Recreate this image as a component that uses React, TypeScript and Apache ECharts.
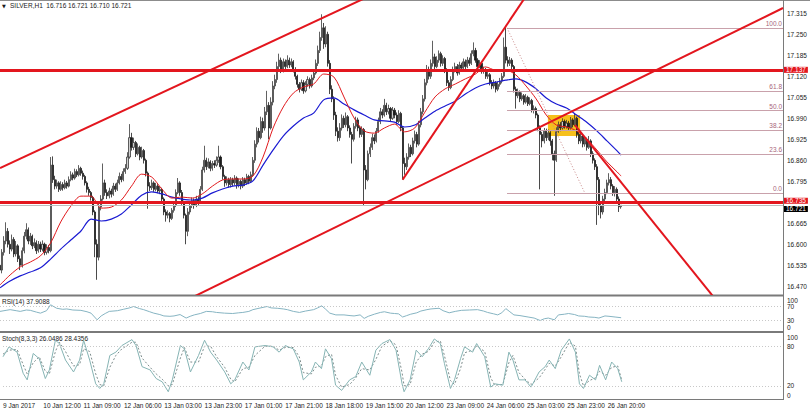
import React, { useEffect, useRef } from "react";
import * as echarts from "echarts";

// SILVER H1, 9–26 Jan 2017. Each bar opens at the previous bar's close.
const firstOpen = 16.535;
const closes = [
  16.520, 16.575, 16.610, 16.640, 16.600, 16.585, 16.615, 16.570, 16.595, 16.555,
  16.535, 16.580, 16.625, 16.645, 16.610, 16.625, 16.595, 16.605, 16.580, 16.600,
  16.585, 16.600, 16.575, 16.590, 16.580, 16.845, 16.800, 16.780, 16.790, 16.770,
  16.785, 16.775, 16.790, 16.780, 16.800, 16.815, 16.805, 16.825, 16.815, 16.835,
  16.820, 16.810, 16.790, 16.770, 16.760, 16.745, 16.700, 16.600, 16.560, 16.715,
  16.740, 16.790, 16.760, 16.750, 16.765, 16.755, 16.780, 16.770, 16.790, 16.810,
  16.800, 16.825, 16.835, 16.870, 16.930, 16.900, 16.915, 16.880, 16.900, 16.870,
  16.890, 16.860, 16.820, 16.780, 16.775, 16.790, 16.770, 16.780, 16.765, 16.770,
  16.740, 16.700, 16.690, 16.695, 16.680, 16.705, 16.720, 16.760, 16.790, 16.760,
  16.730, 16.690, 16.640, 16.700, 16.720, 16.735, 16.720, 16.740, 16.730, 16.770,
  16.830, 16.860, 16.840, 16.855, 16.835, 16.850, 16.845, 16.860, 16.870, 16.840,
  16.810, 16.790, 16.800, 16.785, 16.800, 16.790, 16.805, 16.785, 16.795, 16.780,
  16.800, 16.790, 16.810, 16.795, 16.815, 16.860, 16.910, 16.950, 16.930, 16.980,
  16.960, 17.010, 17.030, 16.960, 17.040, 17.090, 17.110, 17.150, 17.170, 17.140,
  17.165, 17.150, 17.170, 17.155, 17.165, 17.140, 17.120, 17.095, 17.080, 17.100,
  17.075, 17.095, 17.110, 17.090, 17.115, 17.130, 17.160, 17.200, 17.240, 17.270,
  17.220, 17.250, 17.160, 17.080, 17.050, 17.000, 16.950, 16.930, 16.960, 16.990,
  16.970, 16.995, 16.960, 16.940, 16.925, 16.965, 16.985, 16.960, 16.940, 16.955,
  16.830, 16.800, 16.880, 16.900, 16.930, 16.920, 16.950, 16.980, 17.010, 17.000,
  17.030, 17.010, 17.020, 16.990, 17.015, 17.000, 16.980, 17.005, 16.960, 16.850,
  16.840, 16.870, 16.900, 16.880, 16.920, 16.940, 16.910, 16.970, 17.010, 17.050,
  17.100, 17.140, 17.120, 17.160, 17.180, 17.150, 17.170, 17.190, 17.160, 17.175,
  17.140, 17.100, 17.085, 17.110, 17.140, 17.150, 17.130, 17.155, 17.145, 17.165,
  17.150, 17.170, 17.160, 17.190, 17.200, 17.170, 17.150, 17.160, 17.135, 17.140,
  17.120, 17.125, 17.100, 17.090, 17.100, 17.080, 17.095, 17.105, 17.120, 17.210,
  17.170, 17.160, 17.170, 17.150, 17.080, 17.060, 17.070, 17.050, 17.060, 17.040,
  17.055, 17.035, 17.045, 17.015, 17.020, 17.000, 16.960, 16.940, 16.920, 16.950,
  16.930, 16.945, 16.920, 16.880, 16.860, 16.950, 16.970, 16.960, 16.980, 16.965,
  16.975, 16.960, 16.985, 16.970, 16.990, 16.940, 16.920, 16.935, 16.910, 16.925,
  16.900, 16.920, 16.880, 16.860, 16.840, 16.800, 16.720, 16.700, 16.740, 16.760,
  16.790, 16.800, 16.780, 16.760, 16.770, 16.740, 16.716, 16.721,
];
const highs = [
  16.545, 16.585, 16.625, 16.668, 16.650, 16.612, 16.630, 16.622, 16.610, 16.600,
  16.565, 16.590, 16.638, 16.665, 16.652, 16.635, 16.630, 16.618, 16.612, 16.610,
  16.608, 16.612, 16.605, 16.600, 16.598, 16.870, 16.872, 16.812, 16.800, 16.795,
  16.795, 16.792, 16.800, 16.796, 16.810, 16.826, 16.822, 16.834, 16.832, 16.845,
  16.840, 16.828, 16.815, 16.795, 16.778, 16.765, 16.750, 16.705, 16.615, 16.725,
  16.752, 16.850, 16.800, 16.770, 16.775, 16.772, 16.790, 16.788, 16.800, 16.822,
  16.818, 16.835, 16.848, 16.885, 16.972, 16.945, 16.930, 16.920, 16.912, 16.905,
  16.902, 16.895, 16.865, 16.825, 16.792, 16.800, 16.795, 16.790, 16.786, 16.780,
  16.775, 16.745, 16.708, 16.705, 16.700, 16.712, 16.730, 16.770, 16.805, 16.795,
  16.768, 16.735, 16.695, 16.712, 16.730, 16.745, 16.742, 16.750, 16.748, 16.780,
  16.840, 16.905, 16.868, 16.866, 16.860, 16.858, 16.860, 16.872, 16.905, 16.875,
  16.845, 16.815, 16.810, 16.806, 16.808, 16.806, 16.814, 16.810, 16.804, 16.800,
  16.808, 16.806, 16.818, 16.815, 16.825, 16.870, 16.922, 16.962, 16.960, 16.995,
  16.992, 17.025, 17.075, 17.040, 17.055, 17.105, 17.125, 17.165, 17.190, 17.178,
  17.175, 17.172, 17.185, 17.178, 17.175, 17.170, 17.148, 17.125, 17.102, 17.110,
  17.108, 17.105, 17.120, 17.116, 17.125, 17.142, 17.172, 17.215, 17.258, 17.312,
  17.285, 17.275, 17.258, 17.170, 17.092, 17.058, 17.010, 16.962, 16.975, 17.002,
  16.998, 17.008, 17.000, 16.968, 16.948, 16.975, 16.995, 16.992, 16.966, 16.965,
  16.960, 16.845, 16.890, 16.912, 16.942, 16.940, 16.960, 16.992, 17.022, 17.018,
  17.050, 17.038, 17.032, 17.025, 17.025, 17.022, 17.008, 17.015, 17.010, 16.965,
  16.868, 16.882, 16.912, 16.908, 16.930, 16.952, 16.948, 16.982, 17.022, 17.062,
  17.112, 17.155, 17.150, 17.172, 17.230, 17.190, 17.182, 17.200, 17.196, 17.185,
  17.180, 17.145, 17.108, 17.120, 17.150, 17.162, 17.158, 17.165, 17.162, 17.175,
  17.172, 17.180, 17.178, 17.200, 17.225, 17.208, 17.176, 17.170, 17.165, 17.150,
  17.146, 17.134, 17.130, 17.108, 17.110, 17.105, 17.104, 17.115, 17.130, 17.240,
  17.270, 17.182, 17.180, 17.176, 17.155, 17.088, 17.082, 17.076, 17.070, 17.065,
  17.065, 17.060, 17.055, 17.050, 17.030, 17.026, 17.005, 16.968, 16.948, 16.960,
  16.958, 16.955, 16.950, 16.926, 16.890, 16.962, 16.980, 16.978, 16.990, 16.986,
  16.985, 16.982, 16.994, 16.990, 17.005, 16.995, 16.948, 16.945, 16.940, 16.935,
  16.930, 16.935, 16.925, 16.888, 16.866, 16.848, 16.808, 16.730, 16.750, 16.772,
  16.800, 16.820, 16.808, 16.786, 16.780, 16.776, 16.748, 16.721,
];
const lows = [
  16.490, 16.510, 16.565, 16.600, 16.590, 16.570, 16.578, 16.560, 16.562, 16.545,
  16.520, 16.528, 16.572, 16.615, 16.600, 16.598, 16.585, 16.588, 16.570, 16.574,
  16.576, 16.578, 16.566, 16.568, 16.572, 16.575, 16.790, 16.770, 16.772, 16.762,
  16.765, 16.766, 16.770, 16.772, 16.776, 16.795, 16.798, 16.800, 16.808, 16.810,
  16.812, 16.800, 16.782, 16.760, 16.750, 16.735, 16.690, 16.560, 16.490, 16.550,
  16.705, 16.735, 16.750, 16.740, 16.742, 16.745, 16.750, 16.762, 16.765, 16.785,
  16.792, 16.795, 16.818, 16.830, 16.865, 16.890, 16.892, 16.870, 16.875, 16.860,
  16.865, 16.850, 16.810, 16.710, 16.765, 16.768, 16.762, 16.764, 16.758, 16.755,
  16.732, 16.690, 16.670, 16.680, 16.668, 16.675, 16.698, 16.715, 16.755, 16.750,
  16.722, 16.680, 16.600, 16.625, 16.692, 16.712, 16.710, 16.715, 16.720, 16.725,
  16.765, 16.822, 16.830, 16.835, 16.826, 16.828, 16.836, 16.840, 16.852, 16.832,
  16.800, 16.778, 16.782, 16.775, 16.776, 16.780, 16.782, 16.772, 16.776, 16.770,
  16.774, 16.780, 16.784, 16.786, 16.790, 16.810, 16.852, 16.900, 16.915, 16.925,
  16.945, 16.952, 17.000, 16.925, 16.955, 17.030, 17.080, 17.100, 17.140, 17.130,
  17.132, 17.140, 17.145, 17.146, 17.148, 17.132, 17.110, 17.085, 17.070, 17.075,
  17.066, 17.070, 17.088, 17.082, 17.085, 17.108, 17.125, 17.152, 17.192, 17.230,
  17.205, 17.210, 17.150, 17.065, 17.040, 16.985, 16.935, 16.918, 16.920, 16.952,
  16.960, 16.962, 16.950, 16.930, 16.850, 16.918, 16.958, 16.950, 16.930, 16.932,
  16.720, 16.770, 16.795, 16.870, 16.892, 16.910, 16.915, 16.945, 16.972, 16.990,
  16.995, 17.000, 17.002, 16.980, 16.985, 16.990, 16.970, 16.975, 16.950, 16.800,
  16.815, 16.830, 16.862, 16.870, 16.875, 16.912, 16.900, 16.905, 16.962, 17.002,
  17.042, 17.092, 17.110, 17.112, 17.150, 17.140, 17.145, 17.162, 17.150, 17.152,
  17.130, 17.090, 17.075, 17.080, 17.105, 17.132, 17.122, 17.125, 17.138, 17.140,
  17.142, 17.145, 17.152, 17.155, 17.182, 17.162, 17.142, 17.145, 17.128, 17.128,
  17.112, 17.112, 17.092, 17.080, 17.082, 17.070, 17.074, 17.088, 17.098, 17.115,
  17.160, 17.150, 17.152, 17.140, 17.070, 17.020, 17.052, 17.040, 17.044, 17.032,
  17.035, 17.028, 17.030, 17.008, 17.005, 16.990, 16.950, 16.770, 16.900, 16.912,
  16.920, 16.922, 16.905, 16.860, 16.750, 16.855, 16.945, 16.950, 16.955, 16.958,
  16.958, 16.952, 16.955, 16.962, 16.965, 16.930, 16.910, 16.912, 16.900, 16.902,
  16.890, 16.895, 16.870, 16.850, 16.830, 16.660, 16.690, 16.680, 16.692, 16.732,
  16.755, 16.782, 16.770, 16.750, 16.748, 16.730, 16.700, 16.710,
];

// Moving averages, [bar, price]
const maFast: [number, number][] = [
  [0, 16.474], [5, 16.505], [10, 16.530], [15, 16.545], [20, 16.564], [25, 16.604], [30, 16.669],
  [35, 16.718], [40, 16.749], [45, 16.749], [50, 16.712], [55, 16.715], [60, 16.737], [65, 16.780],
  [70, 16.817], [75, 16.808], [80, 16.771], [85, 16.743], [90, 16.746], [95, 16.743], [100, 16.756],
  [105, 16.780], [110, 16.799], [115, 16.802], [120, 16.802], [125, 16.811], [130, 16.870], [135, 16.960],
  [140, 17.025], [145, 17.068], [150, 17.087], [155, 17.096], [160, 17.127], [165, 17.118], [170, 17.056],
  [175, 16.991], [180, 16.951], [185, 16.944], [190, 16.960], [195, 16.972], [200, 16.948], [205, 16.960],
  [210, 17.009], [215, 17.056], [220, 17.081], [225, 17.096], [230, 17.112], [235, 17.127], [240, 17.149],
  [245, 17.139], [250, 17.139], [255, 17.124], [260, 17.090], [265, 17.050], [270, 17.000], [275, 16.969],
  [280, 16.963], [285, 16.951], [290, 16.926], [295, 16.892], [300, 16.855], [305, 16.824], [307, 16.811],
];
const maSlow: [number, number][] = [
  [0, 16.465], [5, 16.486], [10, 16.502], [15, 16.514], [20, 16.527], [25, 16.554], [30, 16.585],
  [35, 16.613], [40, 16.641], [45, 16.678], [50, 16.672], [55, 16.678], [60, 16.694], [65, 16.722],
  [70, 16.752], [75, 16.762], [80, 16.756], [85, 16.746], [90, 16.740], [95, 16.737], [100, 16.743],
  [105, 16.759], [110, 16.771], [115, 16.780], [120, 16.783], [125, 16.796], [130, 16.845], [135, 16.892],
  [140, 16.935], [145, 16.966], [150, 16.991], [155, 17.006], [160, 17.047], [165, 17.053], [170, 17.034],
  [175, 17.016], [180, 17.000], [185, 16.985], [190, 16.982], [195, 16.978], [200, 16.963], [205, 16.969],
  [210, 16.991], [215, 17.012], [220, 17.028], [225, 17.043], [230, 17.065], [235, 17.084], [240, 17.096],
  [245, 17.102], [250, 17.108], [255, 17.112], [260, 17.102], [265, 17.081], [270, 17.053], [275, 17.034],
  [280, 17.022], [285, 17.000], [290, 16.978], [295, 16.951], [300, 16.920], [305, 16.889], [307, 16.876],
];

const rsi14: [number, number][] = [
  [0, 56], [3, 59], [5, 61], [8, 58], [10, 56], [13, 60], [15, 59], [18, 54], [20, 51], [23, 58], [25, 75],
  [28, 65], [31, 62], [33, 63], [36, 60], [40, 59], [43, 55], [45, 51], [48, 32], [50, 43], [52, 50], [54, 56],
  [58, 58], [61, 62], [64, 66], [66, 70], [69, 64], [71, 61], [74, 55], [76, 51], [79, 47], [81, 43], [84, 42],
  [86, 43], [89, 47], [92, 37], [94, 42], [96, 46], [99, 50], [102, 56], [105, 55], [107, 53], [111, 51],
  [115, 50], [118, 52], [120, 53], [123, 56], [125, 61], [128, 65], [132, 70], [134, 66], [137, 65], [140, 63],
  [142, 61], [145, 56], [148, 53], [151, 57], [155, 61], [157, 66], [159, 72], [161, 62], [163, 51], [166, 46],
  [170, 46], [173, 44], [175, 43], [178, 46], [180, 36], [182, 42], [185, 48], [188, 53], [190, 55], [193, 51],
  [195, 50], [197, 49], [199, 40], [201, 44], [203, 48], [206, 52], [208, 57], [211, 61], [213, 63], [215, 64],
  [217, 65], [219, 58], [222, 52], [225, 56], [228, 59], [232, 60], [236, 61], [239, 57], [241, 53], [244, 49],
  [246, 46], [248, 52], [250, 64], [252, 55], [254, 46], [257, 44], [261, 40], [264, 37], [267, 30], [269, 35],
  [271, 37], [274, 32], [276, 46], [279, 48], [281, 50], [284, 47], [286, 43], [289, 42], [291, 40], [294, 39],
  [296, 37], [299, 43], [301, 42], [304, 40], [307, 37.9088],
];

const stochMain: [number, number][] = [
  [0, 64], [3, 79], [7, 71], [10, 39], [12, 29], [15, 69], [18, 61], [21, 31], [23, 44], [26, 89], [28, 84],
  [31, 59], [35, 41], [38, 59], [40, 89], [43, 59], [46, 23], [48, 16], [50, 23], [53, 66], [56, 71], [59, 81],
  [64, 90], [66, 81], [69, 49], [73, 44], [76, 31], [79, 26], [82, 11], [84, 29], [88, 81], [90, 76], [93, 41],
  [97, 66], [100, 89], [103, 71], [106, 59], [110, 41], [113, 23], [115, 29], [119, 56], [122, 44], [125, 79],
  [130, 81], [134, 79], [137, 71], [140, 81], [144, 76], [147, 56], [149, 29], [153, 41], [155, 56], [158, 46],
  [160, 76], [163, 61], [165, 21], [168, 13], [172, 29], [175, 34], [178, 56], [182, 36], [185, 74], [188, 84],
  [192, 90], [195, 74], [198, 23], [199, 11], [202, 29], [205, 74], [208, 64], [211, 76], [214, 91], [217, 84],
  [219, 54], [222, 16], [224, 29], [227, 61], [229, 79], [233, 71], [235, 84], [239, 64], [242, 18], [244, 23],
  [248, 21], [251, 71], [253, 59], [256, 29], [259, 29], [262, 18], [266, 41], [269, 49], [271, 59], [274, 46],
  [277, 74], [281, 91], [284, 71], [286, 23], [288, 16], [291, 36], [294, 29], [296, 51], [299, 29], [302, 56],
  [305, 46], [307, 26.0486],
];
const stochSignal: [number, number][] = [
  [0, 68], [3, 74], [7, 75], [10, 52], [12, 38], [15, 55], [18, 64], [21, 42], [23, 38], [26, 72], [28, 86],
  [31, 72], [35, 50], [38, 52], [40, 76], [43, 72], [46, 38], [48, 22], [50, 20], [53, 48], [56, 66], [59, 76],
  [64, 86], [66, 86], [69, 62], [73, 48], [76, 38], [79, 30], [82, 20], [84, 22], [88, 62], [90, 78], [93, 56],
  [97, 56], [100, 80], [103, 80], [106, 64], [110, 48], [113, 30], [115, 26], [119, 46], [122, 48], [125, 66],
  [130, 80], [134, 80], [137, 74], [140, 78], [144, 78], [147, 64], [149, 40], [153, 38], [155, 48], [158, 50],
  [160, 64], [163, 68], [165, 36], [168, 18], [172, 22], [175, 32], [178, 46], [182, 44], [185, 60], [188, 80],
  [192, 88], [195, 82], [198, 40], [199, 20], [202, 22], [205, 56], [208, 68], [211, 72], [214, 86], [217, 88],
  [219, 66], [222, 28], [224, 22], [227, 46], [229, 70], [233, 74], [235, 80], [239, 72], [242, 32], [244, 21],
  [248, 22], [251, 55], [253, 66], [256, 40], [259, 30], [262, 22], [266, 32], [269, 45], [271, 54], [274, 50],
  [277, 64], [281, 86], [284, 80], [286, 38], [288, 20], [291, 28], [294, 32], [296, 42], [299, 36], [302, 48],
  [305, 50], [307, 28.4356],
];

// Price scale labels (16.730 sits under the level tags and is left out)
const priceTicks = [
  16.470, 16.535, 16.600, 16.665, 16.795, 16.860, 16.925, 16.990, 17.055, 17.120, 17.185, 17.250, 17.315,
];
const timeLabels = [
  "9 Jan 2017", "10 Jan 12:00", "11 Jan 09:00", "12 Jan 06:00", "13 Jan 03:00", "13 Jan 23:00",
  "17 Jan 01:00", "17 Jan 21:00", "18 Jan 18:00", "19 Jan 15:00", "20 Jan 12:00", "23 Jan 09:00",
  "24 Jan 06:00", "25 Jan 03:00", "25 Jan 23:00", "26 Jan 20:00",
];
const barsPerLabel = 20;
const lastVisibleBar = 387;
const priceMin = 16.446;
const priceMax = 17.3531;

// Horizontal support / resistance levels
const levels = [17.137, 16.735];
// Fibonacci retracement drawn from the 24 Jan high to the 25 Jan low
const fibHigh = 17.27;
const fibLow = 16.758;
const fibFromBar = 250.6;
const fibToBar = 289.1;
const fibRatios = [100, 61.8, 50, 38.2, 23.6, 0];
// Trend lines, [bar, price] end points
const trendLines: [number, number][][] = [
  [[0, 16.836], [190, 17.39]],
  [[90, 16.42], [387, 17.3314]],
  [[199, 16.8], [262, 17.387]],
  [[284.2, 16.969], [360, 16.38]],
];
const zone: [number, number][] = [[270.8, 17.0], [286.7, 16.935]];
const rsiLevels = [70, 30];
const stochLevels = [80, 20];

export default function App() {
  const ref = useRef<HTMLDivElement>(null);

  useEffect(() => {
    if (!ref.current) return;
    const chart = echarts.init(ref.current, null, { renderer: "svg" });
    const n = closes.length;
    const candles = closes.map((c, i) => [i === 0 ? firstOpen : closes[i - 1], c, lows[i], highs[i]]);
    const last = candles[n - 1];
    const bid = closes[n - 1];
    const cats = Array.from({ length: lastVisibleBar + 1 }, (_, i) => String(i));
    const font = "'Liberation Sans', Arial, sans-serif";
    const fs = 6.5;
    const red = "#e3161e";
    const fibLineColor = "#c9a1ab";
    const fibTextColor = "#a8657a";
    const fibPrice = (r: number) => fibLow + ((fibHigh - fibLow) * r) / 100;
    const f3 = (v: number) => v.toFixed(3);
    const sideLabel = (bg: string, text: string, dy: number) => ({
      show: true,
      position: "end",
      distance: 1,
      offset: [0, dy],
      formatter: text,
      backgroundColor: bg,
      color: "#fff",
      fontSize: fs,
      lineHeight: 6,
      padding: [0, 2, 0, 2],
    });
    const levelLines = (values: number[]) => ({
      symbol: "none",
      silent: true,
      label: { show: false },
      lineStyle: { color: "#c8c8c8", type: [1, 2], width: 1 },
      data: values.map((v) => ({ yAxis: v })),
    });
    // oscillator scale labels: the 0 and 100 labels sit inside the pane
    const paneLabel = (marks: number[]) => ({
      fontSize: fs,
      color: "#1a1a1a",
      margin: 4,
      formatter: (v: number) => {
        if (v === 100) return "{top|100}";
        if (v === 0) return "{bottom|0}";
        return marks.includes(v) ? String(v) : "";
      },
      rich: {
        top: { fontSize: fs, color: "#1a1a1a", padding: [8, 0, 0, 0] },
        bottom: { fontSize: fs, color: "#1a1a1a", padding: [0, 0, 8, 0] },
      },
    });

    const option = {
      animation: false,
      backgroundColor: "#ffffff",
      textStyle: { fontFamily: font },
      grid: [
        { left: 0, top: 1, width: 783, height: 293 },
        { left: 0, top: 296, width: 783, height: 35 },
        { left: 0, top: 333, width: 783, height: 66 },
      ],
      xAxis: [
        { type: "category", gridIndex: 0, data: cats, boundaryGap: false, show: false },
        { type: "value", gridIndex: 0, min: 0, max: lastVisibleBar, show: false },
        { type: "value", gridIndex: 1, min: 0, max: lastVisibleBar, show: false },
        {
          type: "value",
          gridIndex: 2,
          min: 0,
          max: lastVisibleBar,
          interval: barsPerLabel,
          axisLine: { show: false },
          axisTick: { show: false },
          splitLine: { show: false },
          axisLabel: {
            fontSize: fs,
            color: "#1a1a1a",
            align: "left",
            margin: 3,
            formatter: (v: number) => timeLabels[Math.round(v / barsPerLabel)] ?? "",
          },
        },
      ],
      yAxis: [
        {
          type: "value",
          gridIndex: 0,
          position: "right",
          min: priceMin,
          max: priceMax,
          scale: true,
          axisLine: { show: false },
          axisTick: { show: false },
          splitLine: { show: false },
          axisLabel: { customValues: priceTicks, formatter: f3, fontSize: fs, color: "#1a1a1a", margin: 4 },
        },
        {
          type: "value",
          gridIndex: 1,
          position: "right",
          min: 0,
          max: 100,
          interval: 10,
          axisLine: { show: false },
          axisTick: { show: false },
          splitLine: { show: false },
          axisLabel: paneLabel(rsiLevels),
        },
        {
          type: "value",
          gridIndex: 2,
          position: "right",
          min: 0,
          max: 100,
          interval: 10,
          axisLine: { show: false },
          axisTick: { show: false },
          splitLine: { show: false },
          axisLabel: paneLabel(stochLevels),
        },
      ],
      series: [
        {
          // highlighted consolidation zone
          type: "line",
          xAxisIndex: 1,
          yAxisIndex: 0,
          data: [],
          z: 1,
          markArea: {
            silent: true,
            itemStyle: { color: "#f6c01c" },
            data: [[{ coord: zone[0] }, { coord: zone[1] }]],
          },
        },
        {
          type: "candlestick",
          xAxisIndex: 0,
          yAxisIndex: 0,
          data: candles,
          barWidth: 1.6,
          z: 2,
          itemStyle: {
            color: "#d0d0d0",
            color0: "#1c1c1c",
            borderColor: "#383838",
            borderColor0: "#1c1c1c",
            borderWidth: 0.8,
          },
        },
        {
          type: "line",
          xAxisIndex: 1,
          yAxisIndex: 0,
          data: maSlow,
          showSymbol: false,
          smooth: 0.3,
          z: 4,
          lineStyle: { color: "#1a1ad2", width: 1.2 },
        },
        {
          type: "line",
          xAxisIndex: 1,
          yAxisIndex: 0,
          data: maFast,
          showSymbol: false,
          smooth: 0.3,
          z: 4,
          lineStyle: { color: "#e0191d", width: 1 },
        },
        ...trendLines.map((pts) => ({
          type: "line",
          xAxisIndex: 1,
          yAxisIndex: 0,
          data: pts,
          showSymbol: false,
          z: 5,
          lineStyle: { color: red, width: 2 },
        })),
        {
          // fibonacci retracement
          type: "line",
          xAxisIndex: 1,
          yAxisIndex: 0,
          data: [],
          z: 3,
          markLine: {
            symbol: "none",
            silent: true,
            data: [
              ...fibRatios.map((r) => [
                {
                  coord: [fibFromBar, fibPrice(r)],
                  lineStyle: { color: fibLineColor, width: 1, type: "solid" },
                  label: {
                    show: true,
                    position: "insideEndTop",
                    distance: 1,
                    formatter: r.toFixed(1),
                    color: fibTextColor,
                    fontSize: fs,
                  },
                },
                { coord: [lastVisibleBar, fibPrice(r)] },
              ]),
              [
                {
                  coord: [fibFromBar, fibHigh],
                  lineStyle: { color: "#c98a8a", width: 1, type: [1, 2] },
                  label: { show: false },
                },
                { coord: [fibToBar, fibLow] },
              ],
            ],
          },
        },
        {
          // bid line, drawn beneath the level tags
          type: "line",
          xAxisIndex: 1,
          yAxisIndex: 0,
          data: [],
          z: 6,
          markLine: {
            symbol: "none",
            silent: true,
            data: [
              {
                yAxis: bid,
                lineStyle: { color: "#bdbdbd", width: 1, type: "solid" },
                label: sideLabel("#000000", f3(bid), 3.5),
              },
            ],
          },
        },
        {
          // horizontal support / resistance levels
          type: "line",
          xAxisIndex: 1,
          yAxisIndex: 0,
          data: [],
          z: 7,
          markLine: {
            symbol: "none",
            silent: true,
            data: levels.map((v, i) => ({
              yAxis: v,
              lineStyle: { color: red, width: 3, type: "solid" },
              label: sideLabel(red, f3(v), i === levels.length - 1 ? -1.5 : 0),
            })),
          },
        },
        {
          type: "line",
          xAxisIndex: 2,
          yAxisIndex: 1,
          data: rsi14,
          showSymbol: false,
          lineStyle: { color: "#86b4c2", width: 1 },
          markLine: levelLines(rsiLevels),
        },
        {
          type: "line",
          xAxisIndex: 3,
          yAxisIndex: 2,
          data: stochSignal,
          showSymbol: false,
          lineStyle: { color: "#7d8c8c", width: 1, type: [2, 2] },
          markLine: levelLines(stochLevels),
        },
        {
          type: "line",
          xAxisIndex: 3,
          yAxisIndex: 2,
          data: stochMain,
          showSymbol: false,
          lineStyle: { color: "#86b4b4", width: 1 },
        },
      ],
      graphic: [
        { type: "rect", shape: { x: 0, y: 0, width: 810, height: 1 }, style: { fill: "#8c8c8c" }, silent: true },
        { type: "rect", shape: { x: 0, y: 294.5, width: 784, height: 2 }, style: { fill: "#7a7a7a" }, silent: true },
        { type: "rect", shape: { x: 0, y: 331, width: 784, height: 2 }, style: { fill: "#7a7a7a" }, silent: true },
        { type: "rect", shape: { x: 0, y: 399, width: 784, height: 1 }, style: { fill: "#7a7a7a" }, silent: true },
        { type: "rect", shape: { x: 783, y: 0, width: 1, height: 400 }, style: { fill: "#7a7a7a" }, silent: true },
        {
          type: "text",
          left: 2,
          top: 3,
          style: { text: "▼", fontSize: 5, fill: "#1a1a1a", fontFamily: "DejaVu Sans" },
          silent: true,
        },
        {
          type: "text",
          left: 10,
          top: 2,
          style: {
            text: `SILVER,H1  ${f3(last[0])} ${f3(last[3])} ${f3(last[2])} ${f3(last[1])}`,
            fontSize: fs,
            fill: "#1a1a1a",
            fontFamily: font,
          },
          silent: true,
        },
        {
          type: "text",
          left: 2,
          top: 298,
          style: {
            text: `RSI(14) ${rsi14[rsi14.length - 1][1].toFixed(4)}`,
            fontSize: fs,
            fill: "#1a1a1a",
            fontFamily: font,
          },
          silent: true,
        },
        {
          type: "text",
          left: 2,
          top: 335,
          style: {
            text: `Stoch(8,3,3) ${stochMain[stochMain.length - 1][1].toFixed(4)} ${stochSignal[stochSignal.length - 1][1].toFixed(4)}`,
            fontSize: fs,
            fill: "#1a1a1a",
            fontFamily: font,
          },
          silent: true,
        },
      ],
    };

    chart.setOption(option as any);
    return () => chart.dispose();
  }, []);

  return (
    <div
      ref={ref}
      style={{ position: "absolute", left: 0, top: 0, width: 810, height: 410, background: "#ffffff" }}
    />
  );
}
